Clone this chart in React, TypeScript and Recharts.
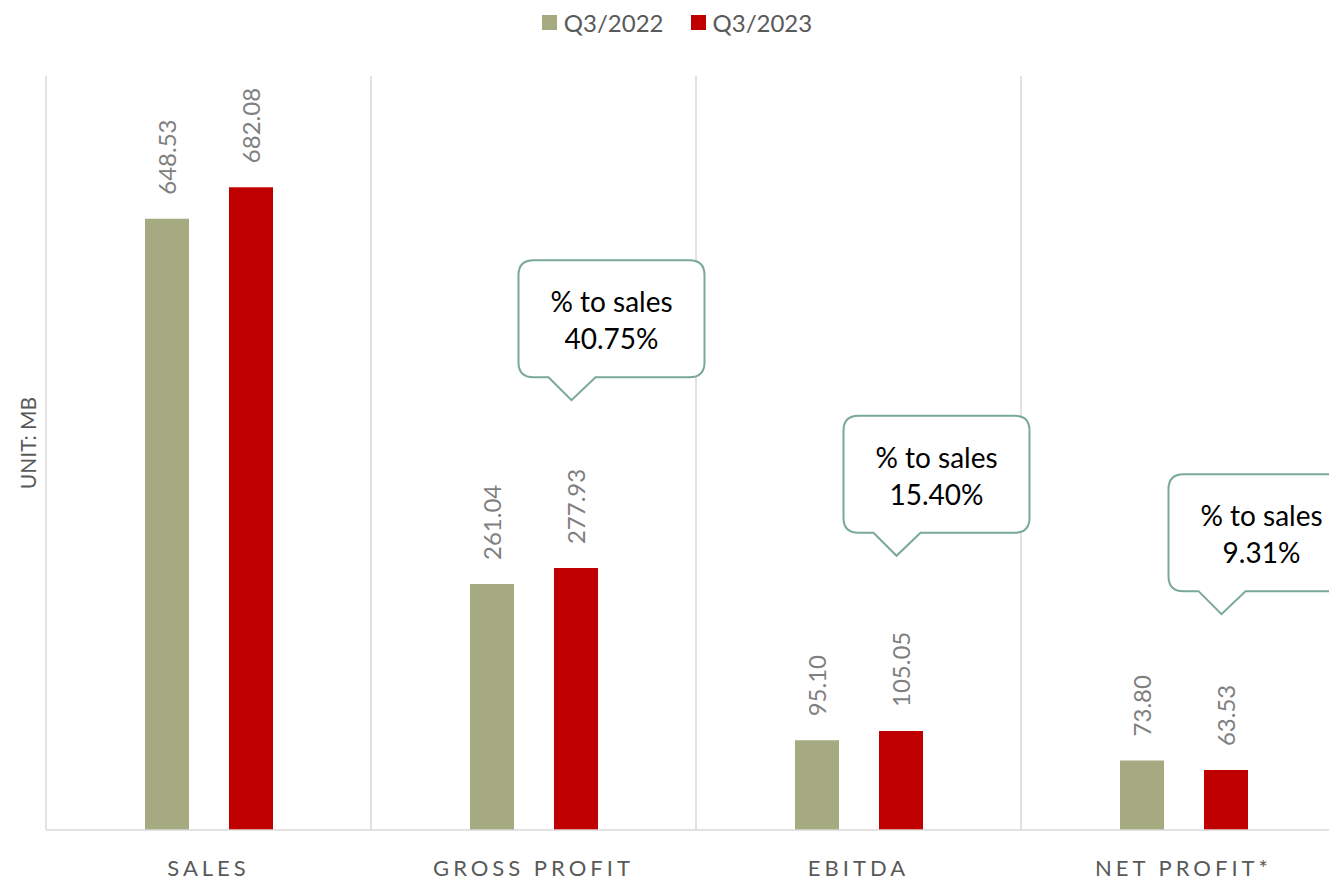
import {
  BarChart, Bar, XAxis, YAxis, CartesianGrid, Legend, LabelList, ReferenceDot
} from 'recharts';

const categories = ['SALES', 'GROSS PROFIT', 'EBITDA', 'NET PROFIT*'];
const q3_2022 = [648.53, 261.04, 95.1, 73.8];
const q3_2023 = [682.08, 277.93, 105.05, 63.53];

// callout tip height (in MB) for each "% to sales" bubble
const calloutCategories = ['GROSS PROFIT', 'EBITDA', 'NET PROFIT*'];
const calloutTips = [456, 291, 229];

const FONT = 'Lato, "Open Sans", sans-serif';
const GREEN = '#A5AA80';
const RED = '#C00000';
const BUBBLE = '#7AA899';

const data = categories.map((name, i) => ({ name, q22: q3_2022[i], q23: q3_2023[i] }));
const salesNow = q3_2023[0];

const ValueLabel = (props: any) => {
  const { x, y, width, value } = props;
  const cx = x + width / 2;
  const ty = y - 24;
  return (
    <text
      x={cx}
      y={ty}
      transform={`rotate(-90, ${cx}, ${ty})`}
      textAnchor="start"
      dominantBaseline="central"
      fill="#7F7F7F"
      fontSize={24}
      fontFamily={FONT}
    >
      {Number(value).toFixed(2)}
    </text>
  );
};

const makeBubble = (pct: number) => (props: any) => {
  const tx = props.cx + 38;
  const ty = props.cy;
  const l = tx - 53, r = tx + 133, t = ty - 140, b = ty - 23, rad = 15;
  const d = [
    `M ${l + rad} ${t}`,
    `L ${r - rad} ${t}`,
    `Q ${r} ${t} ${r} ${t + rad}`,
    `L ${r} ${b - rad}`,
    `Q ${r} ${b} ${r - rad} ${b}`,
    `L ${tx + 24} ${b}`,
    `L ${tx} ${ty}`,
    `L ${tx - 23} ${b}`,
    `L ${l + rad} ${b}`,
    `Q ${l} ${b} ${l} ${b - rad}`,
    `L ${l} ${t + rad}`,
    `Q ${l} ${t} ${l + rad} ${t}`,
    'Z',
  ].join(' ');
  const mx = (l + r) / 2;
  return (
    <g>
      <path d={d} fill="#fff" stroke={BUBBLE} strokeWidth={2} />
      <text x={mx} y={ty - 99} textAnchor="middle" dominantBaseline="central" fontSize={28} fontFamily={FONT} fill="#000">
        % to sales
      </text>
      <text x={mx} y={ty - 62} textAnchor="middle" dominantBaseline="central" fontSize={28} fontFamily={FONT} fill="#000">
        {pct.toFixed(2)}%
      </text>
    </g>
  );
};

const LegendBox = () => (
  <div style={{ height: 69, display: 'flex', justifyContent: 'center', transform: 'translateX(4px)' }}>
    {[
      { label: 'Q3/2022', color: GREEN },
      { label: 'Q3/2023', color: RED },
    ].map((it, i) => (
      <div key={it.label} style={{ display: 'flex', alignItems: 'center', height: 30, marginLeft: i ? 27 : 0 }}>
        <span style={{ width: 15, height: 15, background: it.color, display: 'inline-block', marginRight: 7 }} />
        <span style={{ fontFamily: FONT, fontSize: 24, color: '#595959' }}>{it.label}</span>
      </div>
    ))}
  </div>
);

const YLabel = (props: any) => {
  const vb = props.viewBox;
  const x = vb.x + 27;
  const y = vb.y + vb.height / 2 - 10;
  return (
    <text x={x} y={y} transform={`rotate(-90, ${x}, ${y})`} textAnchor="middle" dominantBaseline="central"
      fontSize={21} fontFamily={FONT} fill="#595959">
      UNIT: MB
    </text>
  );
};

export default function App() {
  return (
    <div style={{ position: 'absolute', left: 0, top: 0, width: 1329, height: 881, overflow: 'hidden', background: '#fff' }}>
      <BarChart
        width={1350}
        height={881}
        data={data}
        margin={{ top: 7, right: 4, bottom: 0, left: 0 }}
        barSize={44}
        barGap={40}
      >
        <CartesianGrid
          horizontal={false}
          stroke="#D9D9D9"
          strokeWidth={1.5}
          verticalCoordinatesGenerator={({ offset }: any) =>
            categories.map((_, i) => offset.left + (i * offset.width) / categories.length).concat(offset.left + offset.width)
          }
        />
        <Legend verticalAlign="top" content={() => <LegendBox />} />
        <XAxis
          dataKey="name"
          tickLine={false}
          axisLine={{ stroke: '#D9D9D9', strokeWidth: 1.5 }}
          tickMargin={24}
          height={51}
          interval={0}
          tick={{ fill: '#595959', fontSize: 22, fontFamily: FONT, letterSpacing: 4 } as any}
        />
        <YAxis
          domain={[0, 800]}
          width={46}
          tick={false}
          tickLine={false}
          axisLine={false}
          label={<YLabel />}
        />
        <Bar dataKey="q22" name="Q3/2022" fill={GREEN} isAnimationActive={false}>
          <LabelList dataKey="q22" content={<ValueLabel />} />
        </Bar>
        <Bar dataKey="q23" name="Q3/2023" fill={RED} isAnimationActive={false}>
          <LabelList dataKey="q23" content={<ValueLabel />} />
        </Bar>
        {calloutCategories.map((cat, i) => {
          const idx = categories.indexOf(cat);
          const pct = (q3_2023[idx] / salesNow) * 100;
          return (
            <ReferenceDot
              key={cat}
              x={cat}
              y={calloutTips[i]}
              ifOverflow="visible"
              shape={makeBubble(pct)}
            />
          );
        })}
      </BarChart>
    </div>
  );
}
